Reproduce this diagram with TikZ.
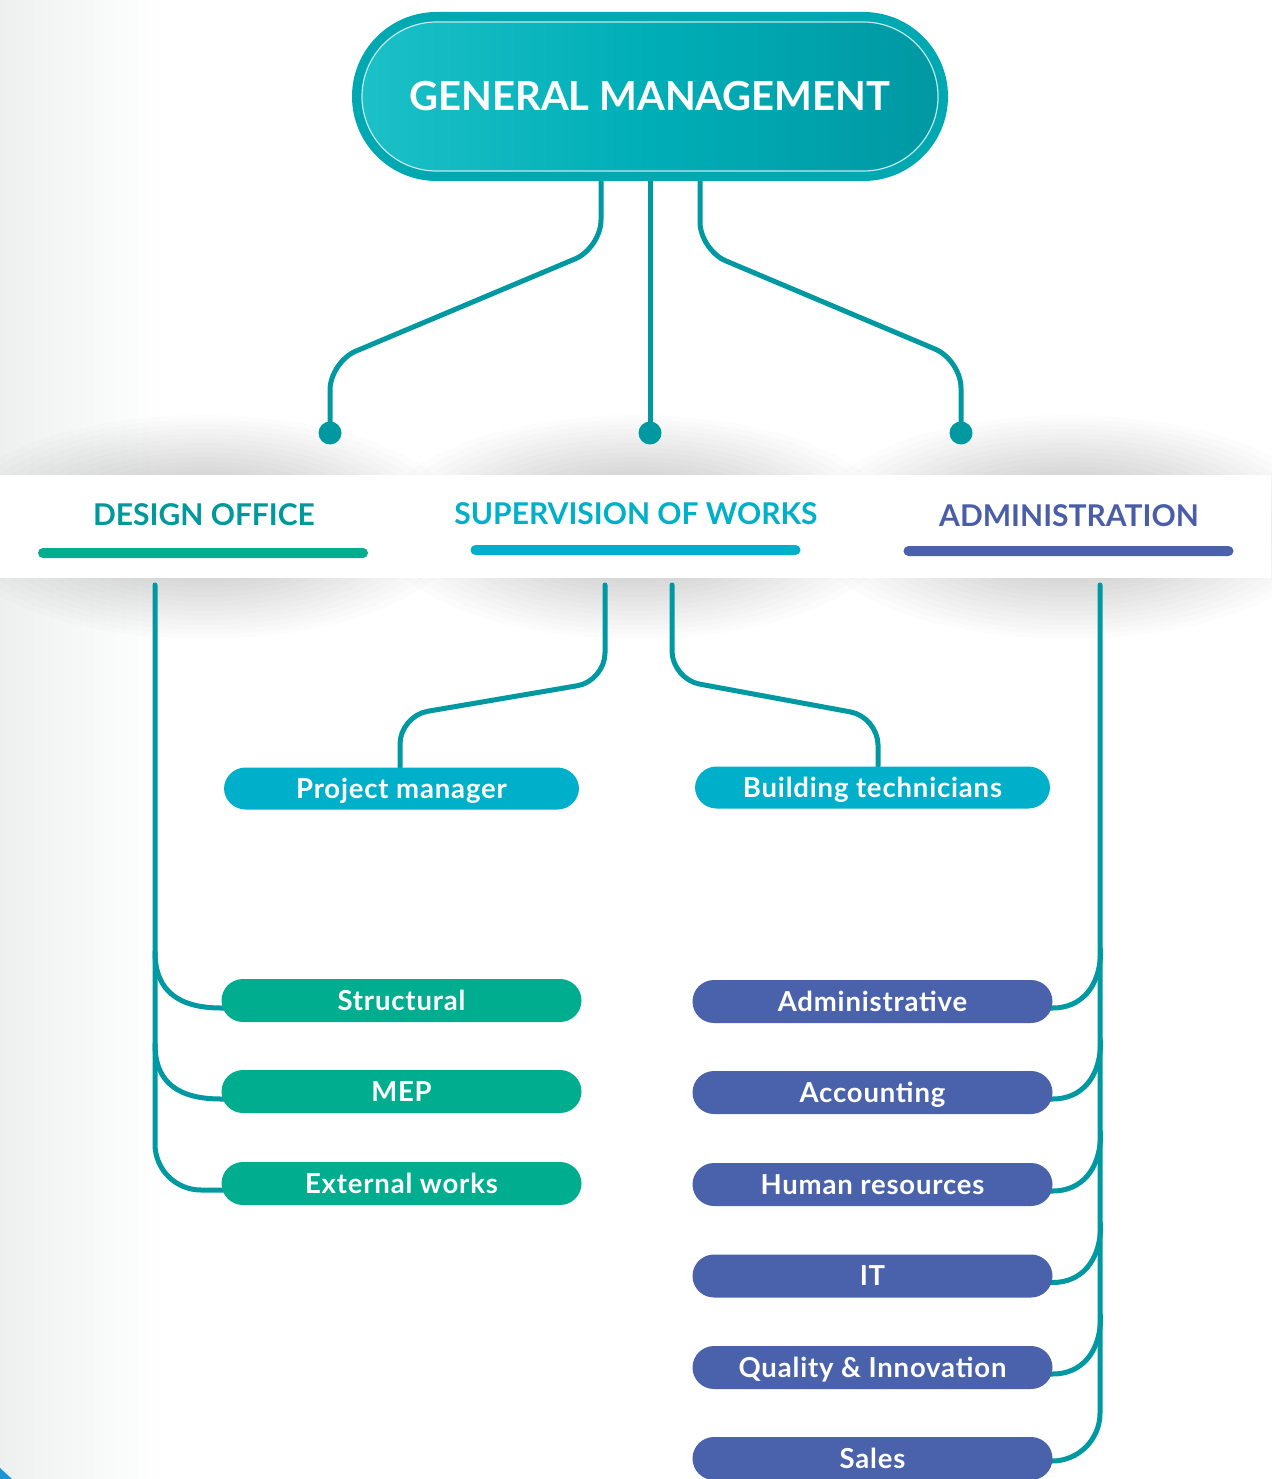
\documentclass[tikz,border=0pt]{standalone}
\usepackage{fontspec}
\setmainfont{Lato}
\usetikzlibrary{calc}
\pgfdeclarelayer{bg}
\pgfdeclarelayer{lines}
\pgfsetlayers{bg,lines,main}
\definecolor{linecol}{HTML}{0099A1}
\definecolor{greenbox}{HTML}{00AD8F}
\definecolor{cyanbox}{HTML}{00AFC9}
\definecolor{indigobox}{HTML}{4A61AB}
\definecolor{designtxt}{HTML}{00999B}
\definecolor{suptxt}{HTML}{00B0C9}
\definecolor{admintxt}{HTML}{4A5EA8}
\definecolor{ringcol}{HTML}{00A8B1}
\definecolor{pillleft}{HTML}{1CC0C7}
\definecolor{pillmid}{HTML}{00AEB7}
\definecolor{pillright}{HTML}{0098A3}
\definecolor{stripgrey}{HTML}{EEF0F0}
\definecolor{cornerblue}{HTML}{1A96D4}
\begin{document}
\begin{tikzpicture}[x=1pt,y=-1pt,
  conn/.style={draw=linecol, line width=5pt, line cap=round},
  dotnode/.style={circle, fill=linecol, minimum size=23pt, inner sep=0pt},
  unitbox/.style={rectangle, rounded corners=21.5pt, minimum width=#1, minimum height=43pt,
     inner sep=0pt, text=white, font=\fontsize{27.5}{30}\selectfont\bfseries\addfontfeature{LetterSpace=3},
     text height=20pt, text depth=1pt},
  greenunit/.style={unitbox=360pt, fill=greenbox},
  cyanunit/.style={unitbox=355pt, fill=cyanbox, minimum height=42pt},
  adminunit/.style={unitbox=360pt, fill=indigobox},
  headtxt/.style={font=\fontsize{30}{36}\selectfont\bfseries, inner sep=0pt,
     text height=22pt, text depth=0pt},
  headbar/.style={rectangle, rounded corners=5pt, minimum width=330pt, minimum height=10pt, inner sep=0pt},
  shadowlayer/.style={fill=black, opacity=0.012}
]
\useasboundingbox (0,0) rectangle (1271,1479);

% ---------- background ----------
\begin{pgfonlayer}{bg}
  \fill[white] (0,0) rectangle (1271,1479);
  \shade[left color=stripgrey, right color=white] (0,0) rectangle (165,1479);
  \foreach \cx in {204,636,1069}{
    \foreach \k in {1,...,24}{
      \path[shadowlayer] (\cx,527) ellipse [x radius={260*\k/24}, y radius={112*\k/24}];
    }
  }
  \fill[white] (0,475) rectangle (1271,578);
  \fill[cornerblue] (0,1468) -- (12,1479) -- (0,1479) -- cycle;
\end{pgfonlayer}

% ---------- top node ----------
\node[rectangle, rounded corners=84.5pt, minimum width=596pt, minimum height=169pt,
      fill=ringcol, inner sep=0pt] (gm) at (650,96.5) {};
\node[rectangle, rounded corners=74.5pt, minimum width=576pt, minimum height=149pt,
      left color=pillleft, right color=pillright, middle color=pillmid,
      draw=white!75!ringcol, line width=1.2pt, inner sep=0pt,
      text=white, font=\fontsize{40}{44}\selectfont\bfseries,
      text height=28pt, text depth=0pt] (gmin) at (650,96.5) {GENERAL MANAGEMENT};

% ---------- dots ----------
\node[dotnode] (d1) at (330,433) {};
\node[dotnode] (d2) at (650,433) {};
\node[dotnode] (d3) at (961,433) {};

% ---------- headers ----------
\node[headtxt, text=designtxt] (hdo) at (204,514) {DESIGN OFFICE};
\node[headtxt, text=suptxt] (hsw) at (636,513) {SUPERVISION OF WORKS};
\node[headtxt, text=admintxt] (had) at (1069,515) {ADMINISTRATION};
\node[headbar, fill=greenbox] (bdo) at (203,553) {};
\node[headbar, fill=cyanbox] (bsw) at (635.5,550) {};
\node[headbar, fill=indigobox] (bad) at (1068.5,551) {};
\coordinate (dL) at (155,585);
\coordinate (sL) at (605,585);
\coordinate (sR) at (672,585);
\coordinate (aL) at (1100,585);

% ---------- unit boxes ----------
\node[cyanunit] (pm) at (401.5,788.5) {Project manager};
\node[cyanunit] (bt) at (872.5,787.5) {Building technicians};
\node[greenunit] (st) at (401.5,1000.5) {Structural};
\node[greenunit] (mep) at (401.5,1091.5) {MEP};
\node[greenunit] (ext) at (401.5,1183.5) {External works};
\node[adminunit] (adm) at (872.5,1001.5) {Administrative};
\node[adminunit] (acc) at (872.5,1092.5) {Accounting};
\node[adminunit] (hr) at (872.5,1184.5) {Human resources};
\node[adminunit] (it) at (872.5,1276) {IT};
\node[adminunit] (qi) at (872.5,1367.5) {Quality \& Innovation};
\node[adminunit] (sa) at (872.5,1458.5) {Sales};

% ---------- connectors ----------
\begin{pgfonlayer}{lines}
  % from general management
  \draw[conn, rounded corners=28pt] ($(gm.south)+(-49,0)$) -- (601,248) -- (330,362) -- (d1.center);
  \draw[conn] (gm.south) -- (d2.center);
  \draw[conn, rounded corners=28pt] ($(gm.south)+(50,0)$) -- (700,250) -- (961,360) -- (d3.center);
  % supervision of works
  \draw[conn, rounded corners=28pt] (sL) -- (605,681) -- (400,716) -- ($(pm.north)+(-1.5,0)$);
  \draw[conn, rounded corners=28pt] (sR) -- (672,679) -- (878,717) -- ($(bt.north)+(5.5,0)$);
  % design office
  \draw[conn, rounded corners=46pt] (dL) -- (155,1190) -- ($(ext.west)+(20,6.5)$);
  \draw[conn] (155,952) .. controls (155,992) and (180,1008) .. ($(st.west)+(0,7.5)$) -- ++(20,0);
  \draw[conn] (155,1044) .. controls (155,1084) and (180,1099) .. ($(mep.west)+(0,7.5)$) -- ++(20,0);
  % administration
  \draw[conn, rounded corners=48pt] (aL) -- (1100,1461) -- ($(sa.east)+(-20,2.5)$);
  \foreach \b in {adm,acc,hr,it,qi}{
    \draw[conn] ($(\b.east)+(48,-52)$) .. controls ($(\b.east)+(48,-14)$) and ($(\b.east)+(28,6.5)$) .. ($(\b.east)+(0,6.5)$) -- ++(-20,0);
  }
\end{pgfonlayer}
\end{tikzpicture}
\end{document}
